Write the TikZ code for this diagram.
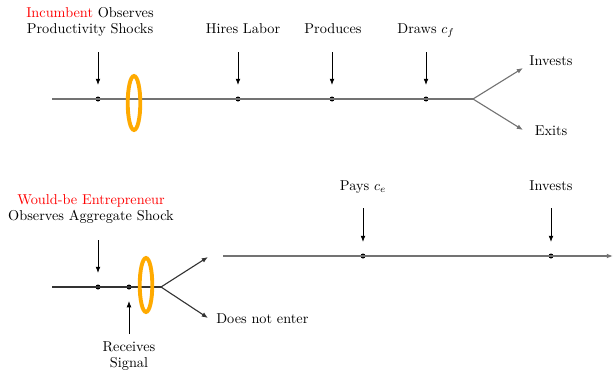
\documentclass[tikz,border=0pt]{standalone}
\usetikzlibrary{arrows.meta}
\definecolor{ringorange}{RGB}{255,170,0}
\begin{document}
\begin{tikzpicture}[x=0.72pt,y=-0.72pt,
  tline/.style={draw=gray!90!black,line width=0.9pt},
  dline/.style={draw=black!80,line width=0.8pt},
  marker/.style={-{Latex[length=4.5pt,width=3.5pt]},black,line width=0.6pt},
  branch/.style={-{Latex[length=4.5pt,width=3.5pt]},line width=0.8pt},
  dot/.style={circle,fill=black,inner sep=0pt,minimum size=3.6pt},
  ring/.style={draw=ringorange,line width=2.8pt},
  lbl/.style={font=\fontsize{10.3}{11}\selectfont,inner sep=0pt,anchor=base,align=center}]
\useasboundingbox (0,0) rectangle (613,372);
% ---------- top timeline ----------
\coordinate (t0) at (52,99);
\coordinate (tb) at (473,99);
\node[dot] (d1) at (98,99) {};
\node[dot] (d2) at (238,99) {};
\node[dot] (d3) at (332,99) {};
\node[dot] (d4) at (426,99) {};
\draw[tline] (t0) -- (tb);
\draw[ring] (134,103) ellipse (6.3 and 27);
\coordinate (ti) at (523,68);
\coordinate (te) at (523,130);
\draw[branch,gray!90!black] (tb) -- (ti);
\draw[branch,gray!90!black] (tb) -- (te);
\node[lbl] (l1) at (90,33) {\textcolor{red}{Incumbent} Observes\\Productivity Shocks};
\node[lbl] (l2) at (243,33) {Hires Labor};
\node[lbl] (l3) at (333,33) {Produces};
\node[lbl] (l4) at (426,33) {Draws $c_f$};
\node[lbl] (l5) at (551,65) {Invests};
\node[lbl] (l6) at (551,135) {Exits};
\coordinate (a1) at (98,52);
\coordinate (a2) at (238,52);
\coordinate (a3) at (332,52);
\coordinate (a4) at (426,52);
\draw[marker] (a1) -- (98,85);
\draw[marker] (a2) -- (238,85);
\draw[marker] (a3) -- (332,85);
\draw[marker] (a4) -- (426,85);
% ---------- bottom left ----------
\coordinate (b0) at (52,287);
\coordinate (bb) at (161,287);
\node[dot] (e1) at (98,287) {};
\node[dot] (e2) at (129,287) {};
\draw[dline] (b0) -- (bb);
\draw[ring] (146,285) ellipse (6.3 and 27);
\coordinate (bu) at (208,257);
\coordinate (bd) at (208,318);
\draw[branch,black!80] (bb) -- (bu);
\draw[branch,black!80] (bb) -- (bd);
\node[lbl] (m1) at (91,220) {\textcolor{red}{Would-be Entrepreneur}\\Observes Aggregate Shock};
\node[lbl,anchor=base west] (m2) at (216,323) {Does not enter};
\node[lbl] (m3) at (129,367) {Receives\\Signal};
\coordinate (c1) at (98,240);
\coordinate (c2) at (129,334);
\draw[marker] (c1) -- (98,273);
\draw[marker] (c2) -- (129,301);
% ---------- bottom right ----------
\coordinate (r0) at (223,256);
\coordinate (r1) at (613,256);
\node[dot] (f1) at (363,256) {};
\node[dot] (f2) at (551,256) {};
\draw[tline,-{Latex[length=4.5pt,width=3.5pt]}] (r0) -- (r1);
\node[lbl] (n1) at (363,190) {Pays $c_e$};
\node[lbl] (n2) at (551,190) {Invests};
\coordinate (g1) at (363,208);
\coordinate (g2) at (551,208);
\draw[marker] (g1) -- (363,242);
\draw[marker] (g2) -- (551,242);
\end{tikzpicture}
\end{document}
